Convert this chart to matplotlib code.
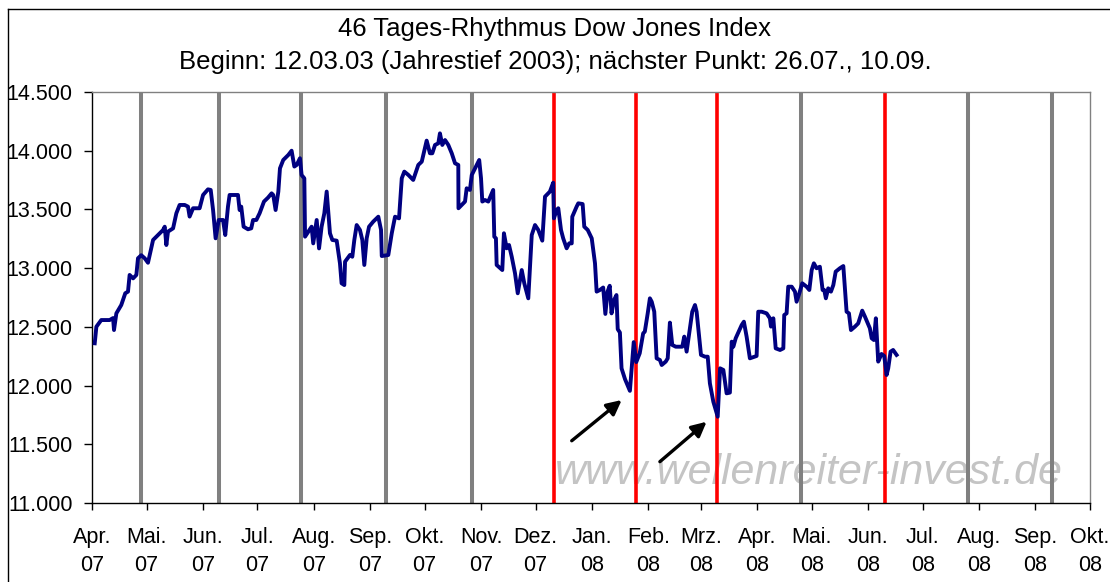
import matplotlib
matplotlib.use('Agg')
import matplotlib.pyplot as plt
import matplotlib.dates as mdates
from matplotlib.ticker import FuncFormatter
from matplotlib.lines import Line2D
import numpy as np

plt.rcParams['font.family'] = ['Liberation Sans', 'DejaVu Sans']

# ---------------- data ----------------
base_date = '2007-04-01'
day_offsets = [
    1.5, 2.4, 5.1, 9.7, 11.6, 12.1, 13.4, 16.1, 18.3, 19.8, 20.7, 22.6, 24.4, 25.3, 27.1, 29.0, 30.8,
    33.6, 36.3, 39.1, 40.0, 40.9, 41.8, 44.6, 46.4, 48.2, 51.0, 52.8, 53.7, 55.6, 59.2, 61.1, 63.8,
    65.3, 66.6, 68.0, 69.7, 72.1, 73.3, 74.8, 75.7, 80.3, 81.2, 82.1, 83.4, 85.8, 87.6, 88.6, 90.4,
    92.2, 94.6, 96.8, 98.8, 99.7, 101.0, 102.5, 103.4, 105.2, 108.0, 109.8, 111.3, 112.6, 114.4,
    115.3, 116.8, 117.2, 119.0, 120.8, 121.7, 123.6, 124.9, 126.3, 127.8, 129.1, 130.9, 132.2,
    134.6, 136.4, 137.3, 138.8, 139.2, 141.9, 143.2, 144.3, 145.6, 147.4, 148.7, 149.8, 151.1,
    152.4, 154.7, 157.5, 159.0, 159.4, 163.0, 164.9, 166.7, 168.9, 170.4, 171.8, 174.0, 176.7,
    179.5, 181.4, 184.1, 185.9, 187.2, 188.7, 190.5, 191.4, 192.7, 194.2, 196.0, 197.9, 199.7,
    201.5, 201.6, 203.4, 205.2, 206.1, 207.9, 208.9, 210.7, 213.0, 214.0, 214.7, 216.2, 218.0,
    220.7, 221.3, 222.2, 222.6, 225.7, 226.6, 228.1, 229.4, 230.9, 232.7, 234.2, 236.4, 237.8,
    240.0, 241.9, 243.7, 245.5, 247.7, 249.2, 251.9, 253.7, 254.1, 255.6, 256.5, 258.0, 259.2,
    261.1, 262.5, 263.9, 264.2, 266.6, 267.5, 269.9, 270.8, 272.7, 274.9, 276.7, 277.6, 279.4,
    281.2, 282.4, 283.6, 284.8, 285.8, 287.2, 288.5, 289.2, 290.4, 291.3, 293.2, 295.9, 298.0,
    299.4, 301.3, 303.2, 304.1, 305.7, 306.9, 307.9, 309.3, 310.6, 312.4, 313.4, 315.6, 316.7,
    317.9, 319.2, 321.1, 324.7, 325.8, 327.1, 328.9, 330.2, 331.7, 332.6, 335.0, 337.2, 338.7,
    339.9, 341.8, 344.2, 345.5, 347.3, 349.1, 350.9, 351.9, 352.8, 354.1, 357.4, 358.6, 360.1,
    361.9, 365.6, 366.5, 368.4, 371.1, 372.9, 373.5, 374.8, 376.1, 378.5, 380.3, 380.8, 382.1,
    383.0, 384.9, 386.7, 387.6, 389.1, 390.7, 393.1, 394.6, 395.9, 397.1, 398.6, 400.4, 401.9,
    402.8, 403.7, 405.0, 406.5, 407.8, 409.1, 411.4, 413.3, 415.1, 416.4, 417.5, 419.7, 421.5,
    423.7, 425.2, 427.9, 428.9, 430.1, 431.2, 432.5, 434.3, 435.8, 437.1, 438.0, 439.3, 440.7,
    442.6,
]
dow_values = [
    12360, 12501, 12558, 12558, 12575, 12473, 12615, 12686, 12786, 12800, 12942, 12913, 12942, 13084, 13110, 13084, 13046,
    13240, 13282, 13325, 13353, 13197, 13311, 13339, 13467, 13538, 13538, 13524, 13439, 13510, 13510, 13623, 13671,
    13666, 13495, 13254, 13410, 13410, 13282, 13524, 13623, 13623, 13495, 13524, 13353, 13331, 13339, 13410, 13410,
    13467, 13567, 13600, 13637, 13623, 13495, 13652, 13850, 13921, 13964, 14000, 13865, 13879, 13936,
    13793, 13765, 13268, 13311, 13353, 13211, 13410, 13168, 13353, 13467, 13652, 13297, 13240,
    13234, 13041, 12871, 12856, 13055, 13112, 13097, 13240, 13367, 13325, 13240, 13027, 13254,
    13353, 13396, 13438, 13325, 13103, 13112, 13297, 13438, 13424, 13765, 13822, 13794, 13751,
    13879, 13907, 14086, 13978, 13978, 14049, 14063, 14148, 14049, 14091, 14049, 13978, 13893,
    13879, 13510, 13538, 13567, 13680, 13666, 13793, 13850, 13921, 13765, 13567, 13580, 13567,
    13666, 13268, 13254, 13027, 12984, 13297, 13169, 13197, 13097, 12956, 12786, 12984, 12871,
    12743, 13282, 13367, 13325, 13234, 13609, 13652, 13728, 13424, 13495, 13510, 13325, 13254,
    13169, 13211, 13211, 13438, 13524, 13552, 13546, 13353, 13325, 13254, 13041, 12800, 12814,
    12835, 12610, 12800, 12850, 12615, 12729, 12771, 12480, 12452, 12147, 12055, 11955, 12370,
    12200, 12275, 12445, 12459, 12615, 12743, 12714, 12629, 12232, 12218, 12175, 12204, 12232,
    12536, 12346, 12331, 12331, 12417, 12289, 12488, 12629, 12686, 12629, 12261, 12246, 12246,
    12019, 11862, 11735, 12147, 12133, 11934, 11940, 12374, 12331, 12403, 12516, 12544, 12417,
    12232, 12252, 12629, 12629, 12615, 12573, 12502, 12573, 12317, 12303, 12317, 12601, 12615,
    12842, 12842, 12800, 12714, 12786, 12871, 12842, 12814, 12984, 13041, 12999, 13012, 12814,
    12814, 12743, 12828, 12800, 12856, 12970, 12999, 13018, 12629, 12615, 12473, 12502, 12530,
    12638, 12587, 12488, 12403, 12388, 12573, 12204, 12269, 12252, 12090, 12147, 12289, 12303,
    12261,
]

# 46-day rhythm points (vertical lines)
rhythm_dates = ['2007-04-28', '2007-06-10', '2007-07-25', '2007-09-10', '2007-10-27', '2007-12-11',
                '2008-01-25', '2008-03-10', '2008-04-25', '2008-06-10', '2008-07-26', '2008-09-10']
rhythm_hit = [False, False, False, False, False, True, True, True, False, True, False, False]

# x-axis categories (month starts)
tick_months = ['2007-04-01', '2007-05-01', '2007-06-01', '2007-07-01', '2007-08-01', '2007-09-01',
               '2007-10-01', '2007-11-01', '2007-12-01', '2008-01-01', '2008-02-01', '2008-03-01',
               '2008-04-01', '2008-05-01', '2008-06-01', '2008-07-01', '2008-08-01', '2008-09-01',
               '2008-10-01']
month_names = ['Apr.', 'Mai.', 'Jun.', 'Jul.', 'Aug.', 'Sep.', 'Okt.', 'Nov.', 'Dez.', 'Jan.',
               'Feb.', 'Mrz.', 'Apr.', 'Mai.', 'Jun.', 'Jul.', 'Aug.', 'Sep.', 'Okt.']
year_labels = ['07'] * 9 + ['08'] * 10

y_ticks = [11000, 11500, 12000, 12500, 13000, 13500, 14000, 14500]

# arrows (tail -> head), day offsets and index values
arrow_tail_days = [263.9, 312.4]
arrow_tail_vals = [11530, 11352]
arrow_head_days = [291.4, 338.1]
arrow_head_vals = [11877, 11692]

title_lines = ['46 Tages-Rhythmus Dow Jones Index',
               'Beginn: 12.03.03 (Jahrestief 2003); nächster Punkt: 26.07., 10.09.']
watermark = 'www.wellenreiter-invest.de'

# ---------------- plot ----------------
W, H = 1110, 582
fig = plt.figure(figsize=(W / 100, H / 100), dpi=100)
ax = fig.add_axes([92 / W, 1 - 503 / H, (1090 - 92) / W, (503 - 92) / H])

base = mdates.date2num(np.datetime64(base_date))
x = base + np.array(day_offsets)
ax.plot(x, dow_values, color='#000080', lw=2.8, zorder=4, solid_joinstyle='round')

for d, hit in zip(rhythm_dates, rhythm_hit):
    ax.axvline(mdates.date2num(np.datetime64(d)), color='#ff0000' if hit else '#808080',
               lw=2.6 if hit else 2.9, zorder=2)

for td, tv, hd, hv in zip(arrow_tail_days, arrow_tail_vals, arrow_head_days, arrow_head_vals):
    ax.annotate('', xy=(base + hd, hv), xytext=(base + td, tv),
                arrowprops=dict(arrowstyle='-|>', color='black', lw=2.4, mutation_scale=22,
                                shrinkA=0, shrinkB=0), zorder=5)

ax.text((555 - 92) / 998, (503 - 484) / 411, watermark, transform=ax.transAxes,
        fontsize=31, style='italic', color='#c4c4c4', ha='left', va='baseline', zorder=1)

xt = [mdates.date2num(np.datetime64(m)) for m in tick_months]
ax.set_xlim(xt[0], xt[-1])
ax.set_xticks(xt)
ax.set_xticklabels([f'{m}\n{y}' for m, y in zip(month_names, year_labels)], linespacing=1.45)
ax.set_ylim(11000, 14500)
ax.set_yticks(y_ticks)
ax.yaxis.set_major_formatter(FuncFormatter(lambda v, p: f'{v:,.0f}'.replace(',', '.')))

ax.tick_params(axis='both', direction='out', colors='black', labelsize=15.5, width=1)
ax.tick_params(axis='y', length=6, pad=8)
ax.tick_params(axis='x', length=5, pad=12)

for s in ['left', 'bottom']:
    ax.spines[s].set_color('black')
    ax.spines[s].set_linewidth(1.0)
for s in ['top', 'right']:
    ax.spines[s].set_color('#808080')
    ax.spines[s].set_linewidth(1.0)

fig.text(0.5, 1 - 29 / H, title_lines[0], ha='center', va='center', fontsize=18.5)
fig.text(0.5, 1 - 62 / H, title_lines[1], ha='center', va='center', fontsize=18.5)

# outer chart frame
fx = 8 / W
fy = 1 - 9 / H
fig.add_artist(Line2D([fx, fx], [0, fy], transform=fig.transFigure, color='black', lw=1.0))
fig.add_artist(Line2D([fx, 1], [fy, fy], transform=fig.transFigure, color='black', lw=1.0))

fig.savefig('out.png', dpi=100)
